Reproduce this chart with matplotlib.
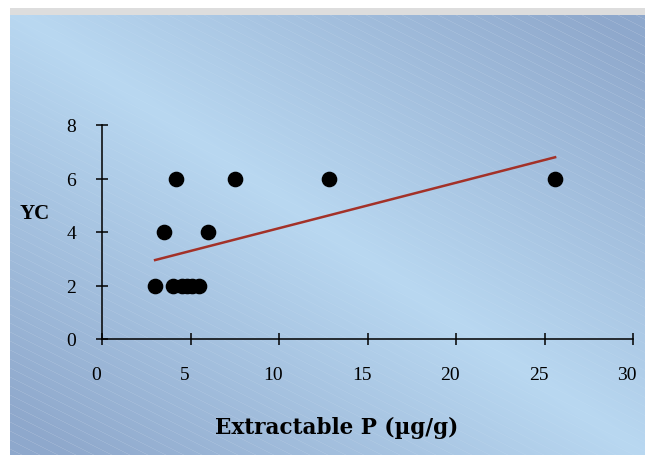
import numpy as np
import matplotlib
matplotlib.use("Agg")
import matplotlib.pyplot as plt
import matplotlib.transforms as mtransforms

# data
p_values = [3.0, 3.5, 4.0, 4.2, 4.5, 4.8, 5.1, 5.5, 6.0, 7.5, 12.8, 25.6]
yc_values = [2, 4, 2, 6, 2, 2, 2, 2, 4, 6, 6, 6]
x_ticks = [0, 5, 10, 15, 20, 25, 30]
y_ticks = [0, 2, 4, 6, 8]

plt.rcParams['font.family'] = ['Liberation Serif', 'DejaVu Serif']

W, H = 645, 456
fig = plt.figure(figsize=(W / 100, H / 100), dpi=100)
fig.patch.set_facecolor('white')

# background panel: gray strip on top, blue diagonal gradient with faint stripes
bg = fig.add_axes([10 / W, 0, 1 - 10 / W, 1 - 9 / H], zorder=0)
bg.set_axis_off()
ph, pw = H - 9, W - 10
yy, xx = np.mgrid[0:ph, 0:pw]
u = xx / pw
v = yy / ph
t = np.clip(np.abs(u - v) * 1.1, 0, 1)
light = np.array([0.725, 0.847, 0.945])
dark = np.array([0.56, 0.66, 0.80])
img = light[None, None, :] * (1 - t[..., None]) + dark[None, None, :] * t[..., None]
stripes = ((xx * 0.5 - yy) % 9) < 1.0
k = (0.03 + 0.08 * t)[stripes][:, None]
img[stripes] = img[stripes] * (1 - k) + k
img[:7] = [0.87, 0.87, 0.87]
bg.imshow(img, aspect='auto', extent=[0, 1, 0, 1], interpolation='nearest')
bg.set_xlim(0, 1)
bg.set_ylim(0, 1)

ax = fig.add_axes([102 / W, 1 - 340 / H, (633 - 102) / W, (340 - 126) / H], zorder=1)
ax.patch.set_alpha(0)

ax.scatter(p_values, yc_values, s=105, color='black', zorder=3, clip_on=False)

slope, intercept = np.polyfit(p_values, yc_values, 1)
fit_x = np.array([min(p_values), max(p_values)])
ax.plot(fit_x, slope * fit_x + intercept, color='#a33128', lw=1.8, zorder=2)

ax.set_xlim(0, 30)
ax.set_ylim(0, 8)
ax.set_xticks(x_ticks)
ax.set_yticks(y_ticks)
for s in ['top', 'right']:
    ax.spines[s].set_visible(False)
for s in ['left', 'bottom']:
    ax.spines[s].set_linewidth(1.1)
ax.tick_params(direction='inout', length=9, width=1.1, labelsize=14)
ax.tick_params(axis='x', pad=15)
ax.tick_params(axis='y', pad=14)

# x tick labels sit a little left of their ticks in the original
shift = mtransforms.ScaledTranslation(-6 / 100, 0, fig.dpi_scale_trans)
for lbl in ax.get_xticklabels():
    lbl.set_transform(lbl.get_transform() + shift)

fig.text(337 / W, 1 - 428 / H, 'Extractable P (µg/g)', fontsize=15.5, fontweight='bold',
         family=['DejaVu Serif'], ha='center', va='center')
fig.text(35 / W, 1 - 214 / H, 'YC', fontsize=15, fontweight='bold', ha='center', va='center')

fig.savefig('out.png', dpi=100)
